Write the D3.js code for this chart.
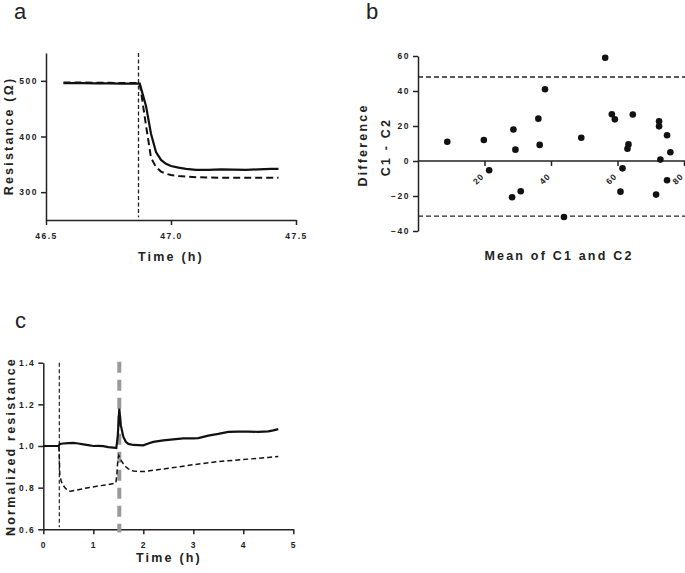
<!DOCTYPE html>
<html><head><meta charset="utf-8">
<script src="https://cdn.jsdelivr.net/npm/d3@7"></script>
<style>
body{margin:0;background:#fff;}
svg{display:block;font-family:"Liberation Sans",Arial,sans-serif;}
.tick text{font-weight:bold;font-size:8.5px;letter-spacing:1.5px;fill:#222;}
.domain,.tick line{stroke:#222;stroke-width:1.5px;}
.title{font-weight:bold;font-size:12.5px;letter-spacing:2.2px;fill:#222;}
.plabel{font-size:22px;fill:#222;}
</style></head>
<body>
<script>
// ---------- Panel a data ----------
const timeA = [46.57, 46.6, 46.65, 46.7, 46.75, 46.8, 46.85, 46.875, 46.9, 46.92, 46.94, 46.96, 46.98, 47.0, 47.03, 47.06, 47.1, 47.15, 47.2, 47.25, 47.3, 47.35, 47.4, 47.43];
const solidA = [496, 496, 496, 495.5, 495.5, 495, 495, 495, 455, 405, 372, 358, 351, 347, 344, 342, 340, 340, 341, 340.5, 340, 341, 342, 342];
const dashedA = [497, 497, 497, 496.5, 496.5, 496, 496, 496, 420, 362, 345, 337, 333, 331, 329, 328, 327, 326.5, 326, 326, 326, 326, 326, 326];
const markerA = 46.87;
const xTicksA = [46.5, 47.0, 47.5];
const yTicksA = [300, 400, 500];

// ---------- Panel b data ----------
const meanB = [8.8, 19.8, 21.4, 28.7, 29.3, 28.3, 30.9, 36.2, 36.6, 38.2, 43.9, 49.1, 56.3, 58.3, 59.2, 61.5, 60.9, 63.3, 63.0, 64.6, 72.5, 72.5, 72.9, 71.6, 74.9, 74.9, 75.9];
const diffB = [11.0, 12.0, -5.3, 18.0, 6.5, -20.7, -17.3, 24.2, 9.2, 41.0, -32.0, 13.3, 59.0, 26.7, 23.8, -4.2, -17.5, 9.5, 7.0, 26.6, 22.7, 19.8, 0.8, -19.2, 14.7, -11.0, 5.0];
const limitsB = [48, -31.5];
const xTicksB = [20, 40, 60, 80];
const yTicksB = [-40, -20, 0, 20, 40, 60];

// ---------- Panel c data ----------
const timeCs = [0, 0.1, 0.2, 0.31, 0.33, 0.4, 0.5, 0.6, 0.7, 0.8, 0.9, 1.0, 1.1, 1.2, 1.3, 1.4, 1.46, 1.49, 1.52, 1.55, 1.6, 1.65, 1.7, 1.8, 1.9, 2.0, 2.1, 2.2, 2.4, 2.6, 2.8, 3.0, 3.1, 3.3, 3.5, 3.7, 3.9, 4.1, 4.3, 4.5, 4.6, 4.7];
const solidC = [1.0, 1.0, 1.0, 1.0, 1.01, 1.012, 1.014, 1.015, 1.012, 1.008, 1.004, 1.0, 1.001, 0.999, 0.995, 0.992, 0.99, 1.05, 1.18, 1.1, 1.045, 1.02, 1.01, 1.005, 1.004, 1.003, 1.012, 1.02, 1.027, 1.032, 1.037, 1.037, 1.038, 1.05, 1.058, 1.068, 1.069, 1.069, 1.068, 1.07, 1.075, 1.081];
const timeCd = [0, 0.1, 0.2, 0.31, 0.32, 0.33, 0.36, 0.4, 0.45, 0.5, 0.55, 0.7, 0.9, 1.1, 1.3, 1.45, 1.47, 1.49, 1.51, 1.53, 1.56, 1.6, 1.65, 1.7, 1.8, 2.0, 2.13, 2.5, 2.8, 3.0, 3.5, 4.0, 4.5, 4.7];
const dashedC = [1.0, 1.0, 1.0, 1.0, 0.95, 0.86, 0.83, 0.81, 0.795, 0.785, 0.783, 0.79, 0.8, 0.808, 0.815, 0.822, 0.86, 0.93, 0.955, 0.945, 0.93, 0.915, 0.9, 0.89, 0.88, 0.877, 0.881, 0.893, 0.903, 0.91, 0.925, 0.935, 0.945, 0.95];
const markerC1 = 0.32;
const markerC2 = 1.52;
const xTicksC = [0, 1, 2, 3, 4, 5];
const yTicksC = [0.6, 0.8, 1.0, 1.2, 1.4];

const svg = d3.select("body").append("svg").attr("width", 685).attr("height", 573);

// ================= Panel a =================
{
  const x = d3.scaleLinear().domain([46.5, 47.5]).range([46, 296]);
  const y = d3.scaleLinear().domain([250, 550]).range([220, 53]);
  const g = svg.append("g");
  g.append("g").attr("transform", "translate(0,220)")
    .call(d3.axisBottom(x).tickValues(xTicksA).tickFormat(d3.format(".1f")).tickSize(5).tickSizeOuter(0).tickPadding(8));
  g.append("g").attr("transform", "translate(46,0)")
    .call(d3.axisLeft(y).tickValues(yTicksA).tickSize(5).tickSizeOuter(0).tickPadding(3));
  g.append("line").attr("x1", x(markerA)).attr("x2", x(markerA)).attr("y1", y(550)).attr("y2", y(255))
    .attr("stroke", "#222").attr("stroke-width", 1.3).attr("stroke-dasharray", "4,2.5");
  const lineA = (vals) => d3.line().x((d, i) => x(timeA[i])).y(d => y(d))(vals);
  g.append("path").attr("d", lineA(dashedA)).attr("fill", "none").attr("stroke", "#111")
    .attr("stroke-width", 2).attr("stroke-dasharray", "7,4");
  g.append("path").attr("d", lineA(solidA)).attr("fill", "none").attr("stroke", "#111").attr("stroke-width", 2.2);
  g.append("text").attr("class", "title").attr("x", 171).attr("y", 261).attr("text-anchor", "middle").text("Time (h)");
  g.append("text").attr("class", "title").attr("transform", "translate(13,136) rotate(-90)").attr("text-anchor", "middle").text("Resistance (Ω)");
  g.append("text").attr("class", "plabel").attr("x", 14).attr("y", 19).text("a");
}

// ================= Panel b =================
{
  const x = d3.scaleLinear().domain([0, 80]).range([418, 684]);
  const y = d3.scaleLinear().domain([-40, 60]).range([231, 56]);
  const g = svg.append("g");
  const xa = g.append("g").attr("transform", `translate(0,${y(0)})`)
    .call(d3.axisBottom(x).tickValues(xTicksB).tickSize(5).tickSizeOuter(0));
  xa.select(".domain").attr("d", `M${x(0)},0H685`);
  xa.selectAll(".tick text").attr("text-anchor", "end").style("letter-spacing", "1px")
    .attr("transform", "translate(-0.5,16) rotate(-45)").attr("dy", 0).attr("y", 0);
  g.append("g").attr("transform", `translate(${x(0)},0)`)
    .call(d3.axisLeft(y).tickValues(yTicksB).tickSize(5).tickSizeOuter(0).tickPadding(3));
  limitsB.forEach(v => {
    g.append("line").attr("x1", x(0)).attr("x2", 685).attr("y1", y(v)).attr("y2", y(v))
      .attr("stroke", "#222").attr("stroke-width", 1.4).attr("stroke-dasharray", "5,3");
  });
  g.selectAll("circle.pt").data(meanB).enter().append("circle").attr("class", "pt")
    .attr("cx", d => x(d)).attr("cy", (d, i) => y(diffB[i])).attr("r", 3.3).attr("fill", "#111");
  g.append("text").attr("class", "title").attr("x", 559).attr("y", 260).attr("text-anchor", "middle").text("Mean of C1 and C2");
  g.append("text").attr("class", "title").attr("transform", "translate(367,145) rotate(-90)").attr("text-anchor", "middle").text("Difference");
  g.append("text").attr("class", "title").attr("transform", "translate(390,147) rotate(-90)").attr("text-anchor", "middle").text("C1 - C2");
  g.append("text").attr("class", "plabel").attr("x", 366).attr("y", 19).text("b");
}

// ================= Panel c =================
{
  const x = d3.scaleLinear().domain([0, 5]).range([43.3, 293.3]);
  const y = d3.scaleLinear().domain([0.6, 1.4]).range([529.3, 362.7]);
  const g = svg.append("g");
  g.append("g").attr("transform", "translate(0,529.3)")
    .call(d3.axisBottom(x).tickValues(xTicksC).tickFormat(d3.format("d")).tickSize(5).tickSizeOuter(0).tickPadding(8));
  g.append("g").attr("transform", "translate(43.3,0)")
    .call(d3.axisLeft(y).tickValues(yTicksC).tickFormat(d3.format(".1f")).tickSize(5).tickSizeOuter(0).tickPadding(3));
  g.append("line").attr("x1", x(markerC1)).attr("x2", x(markerC1)).attr("y1", y(1.4)).attr("y2", y(0.61))
    .attr("stroke", "#222").attr("stroke-width", 1.2).attr("stroke-dasharray", "4,2.5");
  g.append("line").attr("x1", x(markerC2)).attr("x2", x(markerC2)).attr("y1", y(1.405)).attr("y2", y(0.585))
    .attr("stroke", "#999").attr("stroke-width", 4).attr("stroke-dasharray", "11,7");
  g.append("path").attr("d", d3.line().x((d, i) => x(timeCd[i])).y(d => y(d))(dashedC))
    .attr("fill", "none").attr("stroke", "#111").attr("stroke-width", 1.5).attr("stroke-dasharray", "5,3");
  g.append("path").attr("d", d3.line().x((d, i) => x(timeCs[i])).y(d => y(d))(solidC))
    .attr("fill", "none").attr("stroke", "#111").attr("stroke-width", 2.2);
  g.append("text").attr("class", "title").attr("x", 169).attr("y", 562).attr("text-anchor", "middle").text("Time (h)");
  g.append("text").attr("class", "title").attr("transform", "translate(15,446.5) rotate(-90)").attr("text-anchor", "middle").text("Normalized resistance");
  g.append("text").attr("class", "plabel").attr("x", 15).attr("y", 328).text("c");
}
</script>
</body></html>
